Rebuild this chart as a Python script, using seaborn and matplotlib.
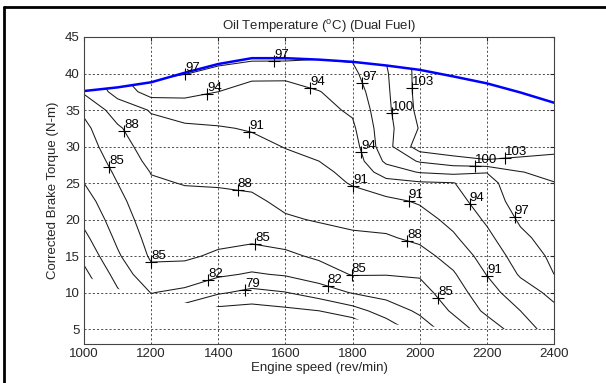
import numpy as np
import seaborn as sns
import matplotlib
matplotlib.use('Agg')
from matplotlib import pyplot as plt
from matplotlib.patches import Polygon
from matplotlib.lines import Line2D

# engine speed (rev/min) columns, torque (N-m) rows
speed = [1000, 1100, 1200, 1300, 1400, 1500, 1600, 1700, 1800, 1900, 2000, 2100, 2200, 2300, 2400]
torque = [5, 7.5, 10, 12.5, 15, 17.5, 20, 22.5, 25, 26.5, 28, 30, 32.5, 35, 37.5, 40, 42.5, 45]

# oil temperature (deg C), one row per torque value
oil_temp = [
    [70.5, 75.6, 78.0, 74.0, 71.0, 71.5, 71.0, 71.4, 73.0, 77.0, 80.5, 83.5, 86.4, 89.5, 92.5],
    [72.1, 77.1, 80.5, 77.4, 75.0, 74.7, 75.3, 76.0, 77.8, 80.4, 82.5, 85.4, 88.6, 91.0, 93.4],
    [73.6, 78.6, 82.1, 81.3, 79.4, 78.2, 78.9, 80.5, 82.2, 83.1, 83.9, 86.6, 89.8, 92.7, 94.7],
    [75.2, 80.1, 84.2, 83.9, 82.5, 81.7, 82.3, 83.5, 85.2, 85.1, 85.3, 87.7, 91.1, 94.3, 97.0],
    [76.8, 81.6, 85.4, 85.4, 84.6, 84.0, 84.4, 85.5, 86.4, 86.4, 87.0, 89.1, 92.2, 95.3, 97.6],
    [78.3, 82.6, 86.0, 86.0, 85.7, 85.5, 86.1, 87.0, 87.5, 87.7, 88.6, 90.6, 93.3, 96.4, 98.2],
    [79.7, 83.4, 86.6, 86.7, 86.5, 86.5, 87.7, 88.2, 88.7, 89.0, 89.9, 91.8, 94.4, 97.4, 98.7],
    [80.8, 84.2, 87.1, 87.4, 87.4, 87.5, 88.6, 89.1, 90.0, 90.3, 91.3, 92.9, 95.4, 98.3, 99.3],
    [82.0, 85.0, 87.7, 88.1, 88.2, 88.5, 89.5, 90.0, 91.2, 93.0, 93.6, 93.9, 95.8, 99.3, 99.9],
    [82.5, 85.5, 88.1, 88.6, 88.8, 89.0, 90.0, 90.5, 91.6, 95.4, 97.2, 97.8, 97.1, 99.9, 100.8],
    [82.9, 86.1, 88.7, 89.1, 89.3, 89.6, 90.4, 91.0, 92.1, 97.6, 100.3, 101.6, 102.7, 102.2, 102.1],
    [83.6, 86.8, 89.3, 89.7, 90.0, 90.3, 91.1, 91.6, 92.7, 98.9, 104.5, 105.5, 105.5, 105.0, 104.0],
    [84.3, 87.6, 90.2, 90.5, 90.8, 91.2, 91.9, 92.4, 93.5, 99.0, 103.2, 105.3, 105.6, 105.5, 104.8],
    [85.5, 89.4, 91.2, 92.3, 92.3, 92.2, 92.7, 93.2, 94.4, 99.3, 103.8, 105.5, 105.7, 105.7, 105.0],
    [88.4, 92.0, 95.3, 94.9, 94.0, 93.3, 93.4, 93.9, 95.4, 99.5, 104.0, 105.5, 105.7, 105.8, 105.0],
    [89.5, 93.5, 98.0, 97.1, 96.3, 94.5, 94.4, 95.6, 96.4, 99.7, 104.0, 105.5, 105.6, 105.8, 105.0],
    [90.5, 94.5, 99.0, 98.0, 98.0, 98.2, 98.2, 97.4, 97.4, 100.2, 104.0, 105.5, 105.5, 105.8, 105.0],
    [91.5, 95.5, 100.0, 99.0, 99.0, 99.0, 99.0, 98.5, 98.5, 101.0, 104.0, 105.5, 105.5, 105.8, 105.0],
]

# measured torque range at each speed
max_torque = [37.6, 38.1, 38.8, 40.1, 41.3, 42.1, 42.1, 41.9, 41.6, 41.1, 40.5, 39.6, 38.65, 37.4, 36.0]
min_torque = [12.3, 10.5, 9.6, 8.6, 8.0, 7.8, 7.6, 7.2, 6.4, 5.7, 5.4, 5.2, 5.0, 5.0, 5.0]

levels = [76, 79, 82, 85, 88, 91, 94, 97, 100, 103]

# where the contour labels sit
label_speed = [1301, 1566, 1369, 1676, 1826, 1965, 1911, 1131, 1492, 1077, 1827, 2165, 2254,
               1459, 1795, 1971, 2153, 2278, 1966, 1200, 1509, 1370, 1480, 1724, 1795, 2061, 2204]
label_torque = [40.1, 41.5, 36.9, 38.3, 38.7, 38.0, 34.6, 32.5, 32.0, 27.3, 29.2, 27.1, 28.2,
                24.3, 23.4, 23.4, 22.3, 20.2, 17.6, 13.6, 16.2, 11.7, 10.6, 10.6, 12.0, 9.4, 12.4]

sns.set_style('white')
plt.rcParams['font.family'] = ['Liberation Sans', 'DejaVu Sans']
plt.rcParams['axes.edgecolor'] = '#444444'

fig = plt.figure(figsize=(6.06, 3.83), dpi=100)
ax = fig.add_axes([0.1386, 0.1018, 0.7756, 0.8016])

ax.set_xlim(1000, 2400)
ax.set_ylim(2.95, 45)

Z = np.array(oil_temp)
cs = ax.contour(speed, torque, Z, levels=levels, colors='#1a1a1a', linewidths=0.75)

# only the measured region gets contours
region = list(zip(speed, min_torque)) + list(zip(speed[::-1], max_torque[::-1]))
patch = Polygon(region, closed=True, transform=ax.transData, facecolor='none', edgecolor='none')
ax.add_patch(patch)
cs.set_clip_path(patch)

labels = ax.clabel(cs, manual=list(zip(label_speed, label_torque)), inline=False,
                   fmt='%d', fontsize=9.5, colors='black')
for t in labels:
    t.set_rotation(0)
    t.set_ha('left')
    t.set_va('bottom')
    px, py = t.get_position()
    ax.plot(px, py, marker='+', color='black', markersize=8, markeredgewidth=0.8)

sns.lineplot(x=speed, y=max_torque, color='#0000ff', linewidth=1.8, ax=ax)

ax.set_xticks([1000, 1200, 1400, 1600, 1800, 2000, 2200, 2400])
ax.set_yticks([5, 10, 15, 20, 25, 30, 35, 40, 45])
ax.grid(True, color='black', linestyle=(0, (2.5, 2.5)), linewidth=0.6, alpha=0.8)
ax.tick_params(direction='in', top=True, right=True, length=3, labelsize=9.5, pad=3)
for s in ax.spines.values():
    s.set_linewidth(0.8)

ax.set_title(r'Oil Temperature ($\mathregular{^{o}}$C) (Dual Fuel)', fontsize=9.5, pad=5)
ax.set_xlabel('Engine speed (rev/min)', fontsize=9.5, labelpad=1)
ax.set_ylabel('Corrected Brake Torque (N-m)', fontsize=9.5, labelpad=4)

# window frame of the screenshot
fig.add_artist(Line2D([4 / 606, 4 / 606], [0, 1 - 7 / 383], transform=fig.transFigure, color='black', linewidth=2))
fig.add_artist(Line2D([4 / 606, 1], [1 - 7 / 383, 1 - 7 / 383], transform=fig.transFigure, color='black', linewidth=2))

fig.savefig('out.png', dpi=100)
